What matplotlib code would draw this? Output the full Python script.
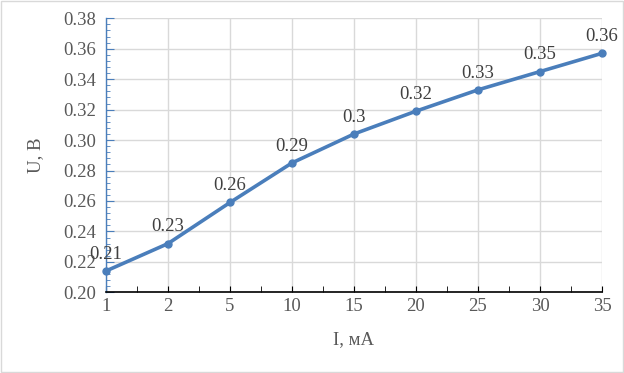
import matplotlib.pyplot as plt
from matplotlib.patches import Rectangle
from matplotlib.ticker import MultipleLocator, FixedLocator
import numpy as np

# Данные
currents = ['1', '2', '5', '10', '15', '20', '25', '30', '35']
voltages = [0.214, 0.232, 0.259, 0.285, 0.304, 0.319, 0.333, 0.345, 0.357]
labels = ['0.21', '0.23', '0.26', '0.29', '0.3', '0.32', '0.33', '0.35', '0.36']

plt.rcParams['font.family'] = ['Liberation Serif', 'DejaVu Serif']
text_color = '#595959'
line_color = '#4a7ebb'
grid_color = '#d9d9d9'

fig = plt.figure(figsize=(6.24, 3.73), dpi=100)
ax = fig.add_axes([106 / 624, 1 - 292.3 / 373, 496 / 624, 274 / 373])

x = np.arange(len(currents))
ax.plot(x, voltages, color=line_color, linewidth=2.6, marker='o',
        markersize=5, zorder=3, clip_on=False)

for xi, yi, lab in zip(x, voltages, labels):
    ax.annotate(lab, (xi, yi), xytext=(0, 6), textcoords='offset points',
                ha='center', va='bottom', fontsize=13.5, color='#404040')

# Оси
ax.set_xlim(0, len(currents) - 1)
ax.set_ylim(0.20, 0.38)
ax.set_xticks(x)
ax.set_xticklabels(currents)
ax.xaxis.set_minor_locator(FixedLocator(x[:-1] + 0.5))
ax.yaxis.set_major_locator(MultipleLocator(0.02))
ax.yaxis.set_minor_locator(MultipleLocator(0.004))
ax.yaxis.set_major_formatter(plt.FuncFormatter(lambda v, p: f'{v:.2f}'))

ax.grid(True, which='major', color=grid_color, linewidth=1)
ax.set_axisbelow(True)

for side in ['top', 'right']:
    ax.spines[side].set_visible(False)
ax.spines['left'].set_color(line_color)
ax.spines['bottom'].set_color('black')
ax.spines['left'].set_linewidth(1)
ax.spines['bottom'].set_linewidth(1.2)

ax.tick_params(axis='y', which='both', direction='in', colors=line_color,
               labelcolor=text_color, labelsize=13.5, pad=7)
ax.tick_params(axis='y', which='major', length=6)
ax.tick_params(axis='y', which='minor', length=3)
ax.tick_params(axis='x', which='both', direction='in', colors='black',
               labelcolor=text_color, labelsize=13.5, length=4, pad=4)

ax.set_xlabel('I, мА', fontsize=13.5, color=text_color, labelpad=12)
ax.set_ylabel('U, В', fontsize=13.5, color=text_color, labelpad=14)

# Рамка области диаграммы
fig.patches.append(Rectangle((0.002, 0.002), 0.996, 0.996, transform=fig.transFigure,
                             fill=False, edgecolor=grid_color, linewidth=1))

plt.savefig('out.png', dpi=100)
